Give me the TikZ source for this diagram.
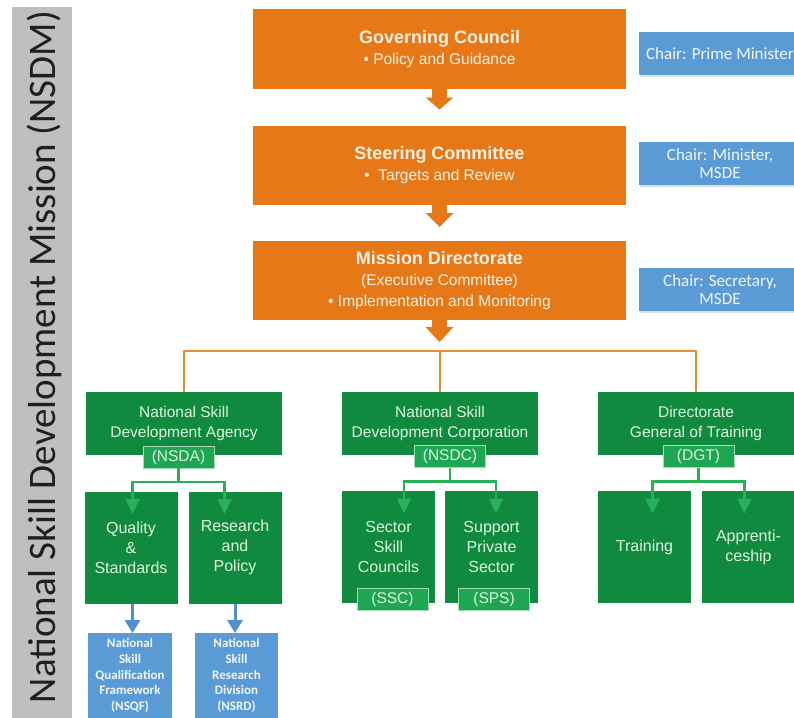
\documentclass[tikz,border=0pt]{standalone}
\usepackage{fontspec}
\setmainfont{Liberation Sans}
\newfontfamily\calfont{Carlito}
\usetikzlibrary{shadows,arrows.meta}
\definecolor{orng}{HTML}{E67817}
\definecolor{orline}{HTML}{EE8B36}
\definecolor{ortext}{HTML}{FDF0E2}
\definecolor{grn}{HTML}{0F8A3E}
\definecolor{grnlab}{HTML}{1EA653}
\definecolor{grnline}{HTML}{2AB05A}
\definecolor{grntext}{HTML}{DDF3E1}
\definecolor{blu}{HTML}{5B9BD5}
\definecolor{bluarrow}{HTML}{4F8FD0}
\definecolor{blutext}{HTML}{F0F6FC}
\definecolor{sidegray}{HTML}{BFBFBF}
\newcommand\oarrow[3]{\fill[orng] ([xshift=-7.5pt]#1.south) -- ++(15,0) -- ++(0,#2) -- ++(6.5,0) -- ++(-14,#3) -- ++(-14,-#3) -- ++(6.5,0) -- cycle;}
\newcommand\gfork[1]{%
  \draw[gline] (#1.south) -- ++(0,14) coordinate (#1j);
  \draw[garrow] (#1j) -- ++(-46,0) -- ++(0,32);
  \draw[garrow] (#1j) -- ++(46,0) -- ++(0,32);}
\begin{document}
\begin{tikzpicture}[x=1pt,y=-1pt,
  box/.style={inner sep=0pt, outer sep=0pt, align=center},
  orangebox/.style={box, fill=orng, text=ortext, minimum width=373pt, minimum height=79pt, font=\fontsize{15.5}{21}\selectfont},
  chairbox/.style={box, fill=blu, text=blutext, minimum width=162pt, minimum height=43pt, font=\calfont\fontsize{17}{18.5}\selectfont, drop shadow={opacity=0.25, shadow xshift=1pt, shadow yshift=-2pt}},
  grnbox/.style={box, fill=grn, text=grntext, minimum width=196pt, minimum height=63pt, font=\fontsize{15.5}{20}\selectfont},
  subbox/.style={box, fill=grn, text=grntext, minimum width=93pt, minimum height=112pt, font=\fontsize{16}{20}\selectfont},
  labbox/.style={box, fill=grnlab, text=grntext, draw=grntext!70!grnlab, line width=0.7pt, minimum width=71pt, minimum height=22pt, font=\fontsize{15.5}{18}\selectfont},
  bottombox/.style={box, fill=blu, text=blutext, minimum width=84pt, minimum height=85pt, font=\calfont\bfseries\fontsize{13}{15.7}\selectfont},
  orconn/.style={draw=orline, line width=2pt},
  gline/.style={draw=grnline, line width=2.5pt},
  garrow/.style={gline, -{Triangle[width=14pt,length=15pt]}},
  barrow/.style={draw=bluarrow, line width=3pt, -{Triangle[width=15pt,length=13pt]}}
]
\useasboundingbox (0,0) rectangle (794,717);
\fill[white] (0,0) rectangle (794,717);
% sidebar
\fill[sidegray] (12,7) rectangle (72,720);
\node[rotate=90, inner sep=0pt, text=black!88, font=\calfont\fontsize{39}{41}\selectfont] (side) at (44,357) {National Skill Development Mission (NSDM)};
% orange boxes
\node[orangebox] (gc) at (439.5,49) {{\fontsize{18}{21}\selectfont\bfseries Governing Council}\\• Policy and Guidance};
\node[orangebox] (sc) at (439.5,165.5) {{\fontsize{18}{21}\selectfont\bfseries Steering Committee}\\•\ \ Targets and Review};
\node[orangebox] (md) at (439.5,280.5) {{\fontsize{18}{21}\selectfont\bfseries Mission Directorate}\\(Executive Committee)\\• Implementation and Monitoring};
\oarrow{gc}{9}{12}
\oarrow{sc}{8}{14}
\oarrow{md}{7}{15}
% chair boxes
\node[chairbox] (ch1) at (720,53.5) {Chair: Prime Minister};
\node[chairbox] (ch2) at (720,163.5) {Chair: Minister,\\MSDE};
\node[chairbox] (ch3) at (720,289.5) {Chair: Secretary,\\MSDE};
% green level
\node[grnbox] (nsda) at (184,423.5) {National Skill\\Development Agency};
\node[grnbox] (nsdc) at (440,423) {National Skill\\Development Corporation};
\node[grnbox] (dgt) at (696,423) {Directorate\\General of Training};
% orange connectors
\coordinate (busL) at (184,350.5);
\coordinate (busR) at (696,350.5);
\draw[orconn] (nsda.north) -- (busL) -- (busR) -- (dgt.north);
\draw[orconn] (nsdc.north) -- (nsdc.north |- busL);
% sub boxes
\node[subbox] (qual) at (131,547.5) {Quality\\\&\\Standards};
\node[subbox] (resp) at (235,547.5) {Research\\and\\Policy};
\node[subbox] (ssc) at (388.5,547) {Sector\\Skill\\Councils};
\node[subbox] (sps) at (491.5,547) {Support\\Private\\Sector};
\node[subbox] (trn) at (644.5,547) {Training};
\node[subbox] (app) at (748.5,547) {Apprenti-\\ceship};
% labels
\node[labbox] (nsdalab) at (178.5,457) {(NSDA)};
\node[labbox] (nsdclab) at (450,456.5) {(NSDC)};
\node[labbox] (dgtlab) at (698.5,456.5) {(DGT)};
\node[labbox] (ssclab) at (392.5,599) {(SSC)};
\node[labbox] (spslab) at (494,599) {(SPS)};
% green forks
\gfork{nsdalab}
\gfork{nsdclab}
\gfork{dgtlab}
% bottom blue boxes
\node[bottombox] (nsqf) at (130,675.5) {National\\Skill\\Qualification\\Framework\\(NSQF)};
\node[bottombox, minimum width=83pt] (nsrd) at (236.5,675.5) {National\\Skill\\Research\\Division\\(NSRD)};
\draw[barrow] ([xshift=1.5pt]qual.south) -- ([xshift=1.5pt]qual.south |- nsqf.north);
\draw[barrow] (resp.south) -- (resp.south |- nsrd.north);
\end{tikzpicture}
\end{document}
